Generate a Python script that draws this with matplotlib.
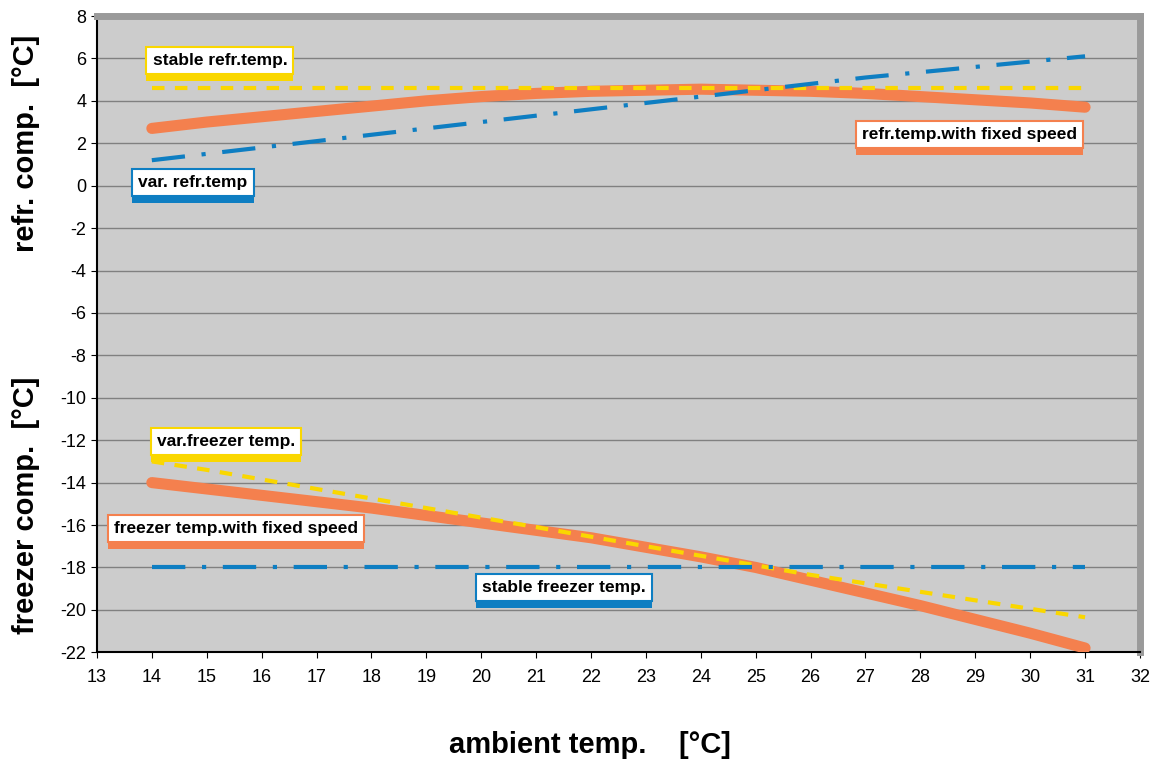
import numpy as np
import matplotlib.pyplot as plt
import matplotlib.patheffects as pe

plt.rcParams['font.family'] = ['Liberation Sans', 'DejaVu Sans']
plt.rcParams['axes.unicode_minus'] = False

# ambient temperature
amb = [14, 15, 16, 17, 18, 19, 20, 21, 22, 23, 24, 25, 26, 27, 28, 29, 30, 31]

refr_stable = [4.6] * len(amb)
refr_fixed = [2.7, 3.0, 3.25, 3.5, 3.75, 4.0, 4.2, 4.35, 4.45, 4.5, 4.55, 4.5, 4.45, 4.35, 4.2, 4.05, 3.9, 3.7]
refr_var = [1.2, 1.5, 1.8, 2.1, 2.4, 2.7, 3.0, 3.3, 3.6, 3.9, 4.2, 4.5, 4.8, 5.1, 5.35, 5.6, 5.85, 6.1]

frz_var = [-13.0, -13.4, -13.85, -14.3, -14.75, -15.2, -15.65, -16.1, -16.55, -17.0, -17.45,
           -17.9, -18.35, -18.75, -19.15, -19.55, -19.95, -20.35]
frz_fixed = [-14.0, -14.3, -14.6, -14.9, -15.2, -15.55, -15.9, -16.25, -16.6, -17.05, -17.5,
             -18.0, -18.6, -19.2, -19.8, -20.45, -21.1, -21.8]
frz_stable = [-18.0] * len(amb)

orange = '#F4804E'
yellow = '#FAD700'
blue = '#0E7EC2'

fig = plt.figure(figsize=(11.68, 7.62), dpi=100)
ax = fig.add_axes([0.083, 0.144, 0.893, 0.835])
ax.set_facecolor('#CCCCCC')

ax.plot(amb, refr_fixed, color=orange, lw=8, solid_capstyle='round', zorder=3)
ax.plot(amb, frz_fixed, color=orange, lw=8, solid_capstyle='round', zorder=3)
ax.plot(amb, refr_stable, color=yellow, lw=3, linestyle=(0, (3, 2.5)), zorder=4)
ax.plot(amb, frz_var, color=yellow, lw=3, linestyle=(0, (3, 2.5)), zorder=4)
ax.plot(amb, refr_var, color=blue, lw=3, linestyle=(0, (8, 4, 1, 4)), zorder=4)
ax.plot(amb, frz_stable, color=blue, lw=3, linestyle=(0, (8, 4, 1, 4)), zorder=4)

ax.set_xlim(13, 32)
ax.set_ylim(-22, 8)
ax.set_xticks(range(13, 33))
ax.set_yticks(range(-22, 9, 2))
ax.yaxis.grid(True, color='#808080', lw=1)
ax.set_axisbelow(True)
ax.tick_params(axis='y', labelsize=13, direction='out', length=4)
ax.tick_params(axis='x', labelsize=13, direction='out', length=4, pad=8)

for s in ['top', 'right']:
    ax.spines[s].set_color('#9A9A9A')
    ax.spines[s].set_linewidth(5)
ax.spines['left'].set_linewidth(1.5)
ax.spines['bottom'].set_linewidth(1.5)

def label(txt, x, y, col):
    t = ax.text(x, y, txt, ha='center', va='center', fontsize=12.5, fontweight='bold', zorder=6,
                bbox=dict(boxstyle='square,pad=0.35', fc='white', ec=col, lw=1.5))
    t.get_bbox_patch().set_path_effects([
        pe.SimplePatchShadow(offset=(0, -5), shadow_rgbFace=col, alpha=1), pe.Normal()])

label('stable refr.temp.', 15.24, 5.9, yellow)
label('var. refr.temp', 14.75, 0.15, blue)
label('refr.temp.with fixed speed', 28.9, 2.4, orange)
label('var.freezer temp.', 15.35, -12.05, yellow)
label('freezer temp.with fixed speed', 15.53, -16.15, orange)
label('stable freezer temp.', 21.5, -18.95, blue)

fig.text(0.505, 0.022, 'ambient temp.    [°C]', ha='center', va='center', fontsize=21, fontweight='bold')
fig.text(0.022, 0.812, 'refr. comp.  [°C]', rotation=90, ha='center', va='center', fontsize=21, fontweight='bold')
fig.text(0.022, 0.337, 'freezer comp.  [°C]', rotation=90, ha='center', va='center', fontsize=21, fontweight='bold')

fig.savefig('out.png')
